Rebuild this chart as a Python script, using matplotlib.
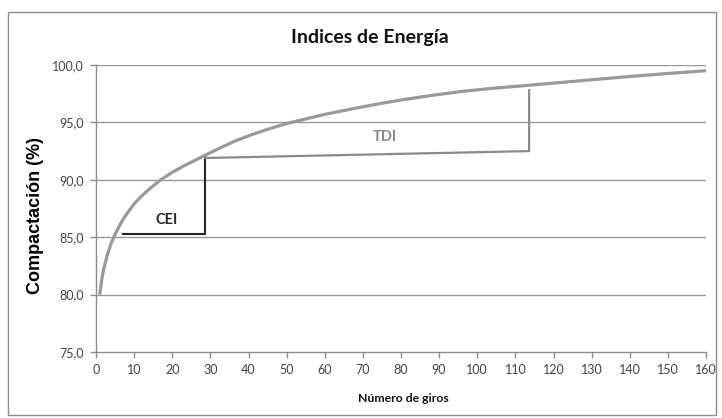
import matplotlib
matplotlib.use("Agg")
import matplotlib.pyplot as plt
from matplotlib.patches import Rectangle

# Data
giros = [1, 1.5, 2, 3, 4, 5, 6, 7, 8, 10, 12, 14, 17, 20, 23, 26, 29, 33, 37, 41,
         45, 50, 55, 60, 66, 73, 80, 88, 96, 104, 113, 122, 131, 140, 150, 160]
compactacion = [80.0, 81.3, 82.2, 83.5, 84.5, 85.25, 85.9, 86.5, 87.0, 87.9, 88.6,
                89.2, 90.0, 90.65, 91.2, 91.7, 92.2, 92.85, 93.45, 93.95, 94.4,
                94.9, 95.3, 95.7, 96.1, 96.55, 96.95, 97.35, 97.7, 97.97, 98.22,
                98.48, 98.74, 99.0, 99.26, 99.5]

cei_x = [7.2, 28.7, 28.7]
cei_y = [85.3, 85.3, 91.9]
tdi_x = [28.7, 113.6, 113.6]
tdi_y = [91.9, 92.5, 97.8]

x_ticks = list(range(0, 161, 10))
y_ticks = [75, 80, 85, 90, 95, 100]
y_tick_labels = ["75,0", "80,0", "85,0", "90,0", "95,0", "100,0"]

title = "Indices de Energía"
xlabel = "Número de giros"
ylabel = "Compactación (%)"

W, H = 722, 418
fig = plt.figure(figsize=(W / 100, H / 100), dpi=100)
fig.patch.set_facecolor("white")

# outer border
fig.patches.append(Rectangle((8 / W, 1 - 415 / H), (716 - 8) / W, (415 - 12) / H,
                             transform=fig.transFigure, fill=False,
                             edgecolor="#8c8c8c", linewidth=1.0))

ax = fig.add_axes([96 / W, 1 - 352 / H, (706 - 96) / W, (352 - 65) / H])
ax.set_xlim(0, 160)
ax.set_ylim(75, 100)

for v in y_ticks[1:]:
    ax.axhline(v, color="#9a9a9a", linewidth=1.0, zorder=1)

ax.plot(giros, compactacion, color="#999999", linewidth=2.3, zorder=3,
        solid_capstyle="butt", solid_joinstyle="round")
ax.plot(cei_x, cei_y, color="#262626", linewidth=1.5, zorder=4)
ax.plot(tdi_x, tdi_y, color="#8a8a8a", linewidth=1.6, zorder=4)

ax.text(18.4, 86.5, "CEI", fontfamily="Lato", fontweight="bold", fontsize=10.5,
        color="#262626", ha="center", va="center")
ax.text(75.8, 93.7, "TDI", fontfamily="Lato", fontweight="bold", fontsize=10.5,
        color="#8a8a8a", ha="center", va="center")

for s in ["top", "right"]:
    ax.spines[s].set_visible(False)
for s in ["left", "bottom"]:
    ax.spines[s].set_color("#8c8c8c")
    ax.spines[s].set_linewidth(1.0)

ax.set_xticks(x_ticks)
ax.set_xticklabels([str(t) for t in x_ticks], fontfamily="Lato", fontsize=9,
                   color="#444444")
ax.set_yticks(y_ticks)
ax.set_yticklabels(y_tick_labels, fontfamily="Lato", fontsize=9, color="#444444")
ax.tick_params(axis="both", direction="out", length=4, width=1.0,
               color="#8c8c8c", pad=5)

fig.text(370 / W, 1 - 38 / H, title, fontfamily="Lato", fontweight="bold",
         fontsize=14, color="#111111", ha="center", va="center")
fig.text(403 / W, 1 - 398 / H, xlabel, fontfamily="Lato", fontweight="bold",
         fontsize=8.8, color="#111111", ha="center", va="center")
fig.text(36 / W, 1 - 215 / H, ylabel, fontfamily="Liberation Sans", fontweight="bold",
         fontsize=13, color="#000000", ha="center", va="center", rotation=90)

fig.savefig("out.png", dpi=100, facecolor="white")
